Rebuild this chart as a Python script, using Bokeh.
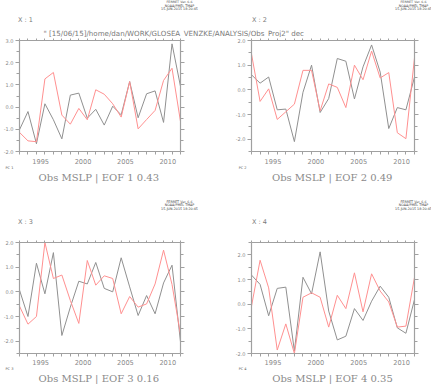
from bokeh.plotting import figure
from bokeh.models import (LinearAxis, FixedTicker, Range1d, Legend, LegendItem, Label,
                          CustomJSTickFormatter, PrintfTickFormatter)
from bokeh.layouts import column, row
from bokeh.embed import file_html
from bokeh.resources import INLINE

# ---------------- data ----------------
years = list(range(1993, 2013))
year_label_pos = [1995.5, 2000.5, 2005.5, 2010.5]

proj1 = [-1.02, -0.2, -1.65, 0.15, -0.57, -1.43, 0.54, 0.63, -0.5, -0.1,
         -0.81, 0.04, -0.35, 1.15, -0.48, 0.6, 0.73, -0.69, 2.85, 0.93]
pc1 = [-1.14, -1.52, -1.56, 1.27, 1.56, -0.36, -0.77, -0.06, -0.57, 0.78,
       0.58, 0.15, -0.45, 1.15, -0.98, -0.56, -0.15, 1.2, 1.75, -0.65]

proj2 = [0.61, 0.27, 0.52, -0.81, -0.78, -2.1, -0.1, 1.0, -0.92, -0.35,
         1.27, 1.16, -0.37, 0.93, 1.82, 0.72, -1.57, -0.72, -0.81, 0.52]
pc2 = [1.45, -0.47, 0.04, -1.2, -0.89, -0.58, 0.79, 0.79, -0.85, 0.24,
       0.1, -0.72, 1.0, 0.41, 1.57, 0.48, 0.7, -1.74, -1.98, 1.3]

proj3 = [0.07, -1.0, 1.16, -0.08, 1.59, -1.77, -0.62, 0.43, 0.32, 1.19,
         0.14, 0.0, 1.38, 0.2, -0.96, -0.15, -0.89, 0.36, 1.08, -2.03]
pc3 = [-0.58, -1.31, -1.0, 2.0, 0.54, 0.68, -0.35, -1.28, 1.27, 0.27,
       0.65, 0.54, -0.89, -0.19, -0.62, -0.49, 0.32, 1.69, 0.3, -1.73]

proj4 = [1.18, 0.8, -0.47, 0.64, 0.69, -1.9, 1.09, 0.42, 2.12, -0.28,
         -1.45, -1.3, -0.18, -0.66, 0.12, 0.73, 0.28, -0.96, -1.18, 0.19]
pc4 = [-0.08, 1.78, 0.66, -1.86, -0.8, -2.0, 0.28, 0.46, 0.28, -0.93,
       0.36, -0.18, 1.27, -0.31, 1.23, 0.53, 0.09, -0.93, -0.89, 1.09]

projections = [proj1, proj2, proj3, proj4]
pcs = [pc1, pc2, pc3, pc4]
y_ranges = [(-2.0, 3.0), (-2.5, 2.0), (-2.5, 2.0), (-2.0, 2.5)]
eof_numbers = [1, 2, 3, 4]
eof_fraction = ["0.43", "0.49", "0.16", "0.35"]
pc_labels = ["PC 1", "PC 2", "PC 3", "PC 4"]
x_labels = ["X : 1", "X : 2", "X : 3", "X : 4"]
long_title = '" [15/06/15]/home/dan/WORK/GLOSEA_VENZKE/ANALYSIS/Obs_Proj2" dec'
stamp = ["FERRET Ver. 6.6", "NOAA/PMEL TMAP", "15-JUN-2015 18:20:45"]

# ---------------- style ----------------
AX = "#a0a0a0"
TICKLAB = "#8a8a8a"
TXT = "#7a7a7a"
TITLE_C = "#8a8a8a"
STAMP = "#444444"
GRAY = "#909090"
RED = "#ff9090"
PAGE_W = 431

# plot canvases: W ; frame left L, width FW, height FH, bottom border B, label standoff S
plot_layout = [
    dict(W=215, L=18, FW=162, FH=111, B=15, S=4),
    dict(W=216, L=36, FW=163, FH=111, B=15, S=4),
    dict(W=215, L=18, FW=162, FH=111, B=14, S=3),
    dict(W=216, L=36, FW=163, FH=111, B=14, S=3),
]
TOP_B = 3


def style_axis(ax):
    ax.axis_line_color = AX
    ax.axis_line_width = 1.2
    ax.major_tick_line_color = AX
    ax.minor_tick_line_color = AX
    ax.major_tick_in = 0
    ax.minor_tick_in = 0
    ax.major_label_text_color = TICKLAB
    ax.major_label_text_font = "DejaVu Sans"


def make_plot(i):
    lay = plot_layout[i]
    lo, hi = y_ranges[i]
    p = figure(width=lay["W"], height=TOP_B + lay["FH"] + lay["B"],
               x_range=Range1d(years[0], years[-1]), y_range=Range1d(lo, hi),
               output_backend="svg", toolbar_location=None, title=None,
               x_axis_location=None, y_axis_location=None,
               min_border_left=lay["L"], min_border_top=TOP_B,
               min_border_right=lay["W"] - lay["L"] - lay["FW"], min_border_bottom=lay["B"])
    p.outline_line_color = None
    p.border_fill_color = "white"
    p.xgrid.visible = False
    p.ygrid.visible = False

    yt_major = [v for v in range(-3, 4) if lo <= v <= hi]
    yt_minor = [v / 2 for v in range(-6, 7) if lo <= v / 2 <= hi]

    xb = LinearAxis(ticker=FixedTicker(ticks=year_label_pos, minor_ticks=years))
    style_axis(xb)
    xb.major_tick_out = 3
    xb.major_tick_line_color = None
    xb.minor_tick_out = 3
    xb.major_label_standoff = lay["S"]
    xb.major_label_text_font_size = "6.6px"
    xb.formatter = CustomJSTickFormatter(code="return String(Math.floor(tick))")
    p.add_layout(xb, "below")

    xt = LinearAxis(ticker=FixedTicker(ticks=year_label_pos, minor_ticks=years))
    style_axis(xt)
    xt.major_tick_out = 2
    xt.major_tick_line_color = None
    xt.minor_tick_out = 2
    xt.major_label_standoff = 0
    xt.major_label_text_font_size = "0.5px"
    xt.major_label_text_alpha = 0
    xt.formatter = CustomJSTickFormatter(code="return ''")
    p.add_layout(xt, "above")

    for side in ["left", "right"]:
        ax = LinearAxis(ticker=FixedTicker(ticks=yt_major, minor_ticks=yt_minor))
        style_axis(ax)
        ax.major_tick_out = 4
        ax.minor_tick_out = 3
        if side == "left":
            ax.major_label_standoff = 2
            ax.major_label_text_font_size = "5px"
            ax.formatter = PrintfTickFormatter(format="%.1f")
        else:
            ax.major_label_standoff = 0
            ax.major_label_text_font_size = "0.5px"
            ax.major_label_text_alpha = 0
            ax.formatter = CustomJSTickFormatter(code="return ''")
        p.add_layout(ax, side)

    p.line(years, projections[i], line_color=GRAY, line_width=1)
    p.line(years, pcs[i], line_color=RED, line_width=1)
    return p


def make_strip(h):
    s = figure(width=PAGE_W, height=h, x_range=Range1d(0, PAGE_W), y_range=Range1d(0, h),
               output_backend="svg", toolbar_location=None, title=None,
               x_axis_location=None, y_axis_location=None, min_border=0)
    s.min_border_left = s.min_border_right = s.min_border_top = s.min_border_bottom = 0
    s.outline_line_color = None
    s.border_fill_color = "white"
    s.xgrid.visible = False
    s.ygrid.visible = False
    return s


def add_text(s, h, x, y_top, text, size, color=TXT, font="DejaVu Sans", align="left"):
    s.add_layout(Label(x=x, y=h - y_top, x_units="screen", y_units="screen", text=text,
                       text_font=font, text_font_size=size, text_color=color,
                       text_align=align, text_baseline="middle"))


def add_legend(s, h, i, x, y_top):
    proxy = s.line(x=[], y=[], line_color=RED, line_width=1)
    leg_h = 4.1
    leg = Legend(items=[LegendItem(label=pc_labels[i], renderers=[proxy])],
                 location=(x, h - y_top - leg_h / 2), orientation="horizontal",
                 glyph_width=20, glyph_height=4, label_height=4, label_width=1,
                 label_standoff=2, padding=0, margin=0, spacing=0,
                 label_text_font_size="3.5px", label_text_color="#555555",
                 label_text_font="DejaVu Sans",
                 border_line_color=None, background_fill_alpha=0)
    s.add_layout(leg, "center")


def add_stamp(s, h, cx, y_first):
    for k, line_txt in enumerate(stamp):
        add_text(s, h, cx, y_first + 3.2 * k, line_txt, "3.3px", STAMP, align="center")


def title_text(i):
    return "Obs MSLP | EOF %d %s" % (eof_numbers[i], eof_fraction[i])


# header strip (above the upper plots)
H_HEAD = 37
head = make_strip(H_HEAD)
add_stamp(head, H_HEAD, 179, 1.9)
add_stamp(head, H_HEAD, 413, 1.9)
add_text(head, H_HEAD, 17.5, 19.5, x_labels[0], "6.5px")
add_text(head, H_HEAD, 251.5, 19.5, x_labels[1], "6.5px")
add_text(head, H_HEAD, 43, 33, long_title, "7.1px")

plots = [make_plot(i) for i in range(4)]

# middle strip (between the two plot rows): y from 166 to 239
H_MID = 73
mid = make_strip(H_MID)
add_legend(mid, H_MID, 0, -16.5, 2.0)
add_legend(mid, H_MID, 1, 216.7, 2.0)
add_text(mid, H_MID, 98.3, 11.0, title_text(0), "10px", TITLE_C, font="DejaVu Serif", align="center")
add_text(mid, H_MID, 331.7, 11.3, title_text(1), "10px", TITLE_C, font="DejaVu Serif", align="center")
add_stamp(mid, H_MID, 179, 35.7)
add_stamp(mid, H_MID, 413, 35.7)
add_text(mid, H_MID, 17.5, 55.0, x_labels[2], "6.5px")
add_text(mid, H_MID, 251.5, 55.0, x_labels[3], "6.5px")

# footer strip (below the lower plots): y from 367 to 384
H_FOOT = 17
foot = make_strip(H_FOOT)
add_legend(foot, H_FOOT, 2, -16.5, 2.2)
add_legend(foot, H_FOOT, 3, 216.7, 2.2)
add_text(foot, H_FOOT, 98.3, 10.7, title_text(2), "10px", TITLE_C, font="DejaVu Serif", align="center")
add_text(foot, H_FOOT, 332.0, 10.7, title_text(3), "10px", TITLE_C, font="DejaVu Serif", align="center")

page = column(head, row(plots[0], plots[1]), mid, row(plots[2], plots[3]), foot)
open("out.html", "w").write(file_html(page, INLINE))
